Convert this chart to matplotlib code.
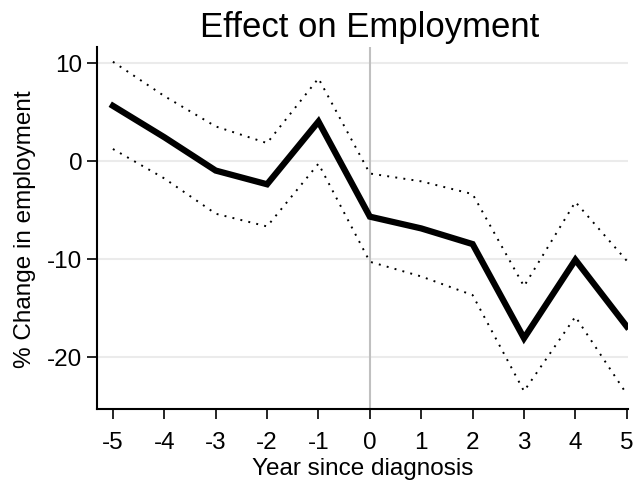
import matplotlib
matplotlib.use("Agg")
import matplotlib.pyplot as plt

plt.rcParams['font.family'] = ['Liberation Sans', 'DejaVu Sans']
plt.rcParams['axes.unicode_minus'] = False

# Event-study estimates with confidence bounds
years = [-5, -4, -3, -2, -1, 0, 1, 2, 3, 4, 5]
estimate = [5.6, 2.4, -1.0, -2.4, 4.0, -5.7, -6.9, -8.5, -18.1, -10.1, -16.9]
upper = [10.1, 6.6, 3.5, 1.8, 8.4, -1.3, -2.1, -3.4, -12.8, -4.2, -10.2]
lower = [1.2, -1.8, -5.4, -6.7, -0.3, -10.3, -11.8, -13.7, -23.5, -15.9, -23.8]

fig = plt.figure(figsize=(6.38, 4.85), dpi=100)
ax = fig.add_axes([0.152, 0.155, 0.832, 0.746])

ax.axvline(0, color='#c0c0c0', lw=1.5, zorder=1)
ax.plot(years, upper, color='black', lw=1.4, linestyle=(0, (1, 3.2)), zorder=2)
ax.plot(years, lower, color='black', lw=1.4, linestyle=(0, (1, 3.2)), zorder=2)
ax.plot(years, estimate, color='black', lw=4.5, solid_joinstyle='miter', zorder=3)

ax.set_xlim(-5.31, 5.02)
ax.set_ylim(-25.3, 11.6)
ax.set_xticks(years)
ax.set_xticklabels([str(y) for y in years])
ax.set_yticks([-20, -10, 0, 10])
ax.yaxis.grid(True, color='#ebebeb', lw=1.5)
ax.set_axisbelow(True)

for side in ['top', 'right']:
    ax.spines[side].set_visible(False)
for side in ['left', 'bottom']:
    ax.spines[side].set_linewidth(1.5)
ax.tick_params(direction='out', length=7, width=1.2, labelsize=17.5)
ax.tick_params(axis='x', pad=9)
ax.tick_params(axis='y', pad=3.5)

ax.set_xlabel("Year since diagnosis", fontsize=17.5, labelpad=3)
ax.set_ylabel("% Change in employment", fontsize=17.5, labelpad=8)
ax.set_title("Effect on Employment", fontsize=25, pad=8, x=0.513)

plt.savefig("out.png", dpi=100)
